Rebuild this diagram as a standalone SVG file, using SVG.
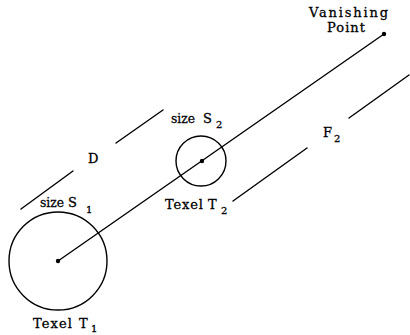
<svg xmlns="http://www.w3.org/2000/svg" width="410" height="335" viewBox="0 0 410 335">
<style>
.ln{stroke:#000;stroke-width:1.4;fill:none;stroke-linecap:round}
.c{stroke:#000;stroke-width:1.4;fill:none}
.t{font-family:"DejaVu Serif","Liberation Serif",serif;font-size:13px;fill:#000;stroke:#000;stroke-width:0.3}
.s{font-size:10px}
</style>
<rect width="410" height="335" fill="#fff"/>
<g id="connectors">
<line class="ln" x1="58" y1="261" x2="384" y2="34"/>
<line class="ln" x1="21" y1="209" x2="73" y2="171"/>
<line class="ln" x1="116" y1="143" x2="163" y2="110"/>
<line class="ln" x1="233" y1="201" x2="307" y2="148"/>
<line class="ln" x1="349" y1="118" x2="409" y2="75"/>
</g>
<g id="texelT1">
<circle class="c" cx="58" cy="261" r="49"/>
<circle cx="58" cy="261" r="2.2" fill="#000"/>
<text class="t" x="40" y="207" textLength="24" lengthAdjust="spacingAndGlyphs">size</text>
<text class="t" x="68" y="207">S</text><text class="t s" x="86" y="213">1</text>
<text class="t" x="33" y="328" textLength="39" lengthAdjust="spacing">Texel</text>
<text class="t" x="79" y="328">T</text><text class="t s" x="91" y="332">1</text>
</g>
<g id="texelT2">
<circle class="c" cx="201" cy="161" r="25"/>
<circle cx="202" cy="161" r="2.2" fill="#000"/>
<text class="t" x="171" y="123" textLength="24" lengthAdjust="spacingAndGlyphs">size</text>
<text class="t" x="203" y="123">S</text><text class="t s" x="216" y="128">2</text>
<text class="t" x="165" y="209" textLength="38" lengthAdjust="spacing">Texel</text>
<text class="t" x="208" y="209">T</text><text class="t s" x="221" y="214">2</text>
</g>
<g id="vanishingPoint">
<circle cx="384" cy="34" r="2.2" fill="#000"/>
<text class="t" x="309" y="17" textLength="79" lengthAdjust="spacing">Vanishing</text>
<text class="t" x="327" y="32" textLength="38" lengthAdjust="spacing">Point</text>
</g>
<g id="labelD">
<text class="t" x="88" y="163">D</text>
</g>
<g id="labelF2">
<text class="t" x="323" y="137">F</text><text class="t s" x="334" y="142">2</text>
</g>
</svg>
